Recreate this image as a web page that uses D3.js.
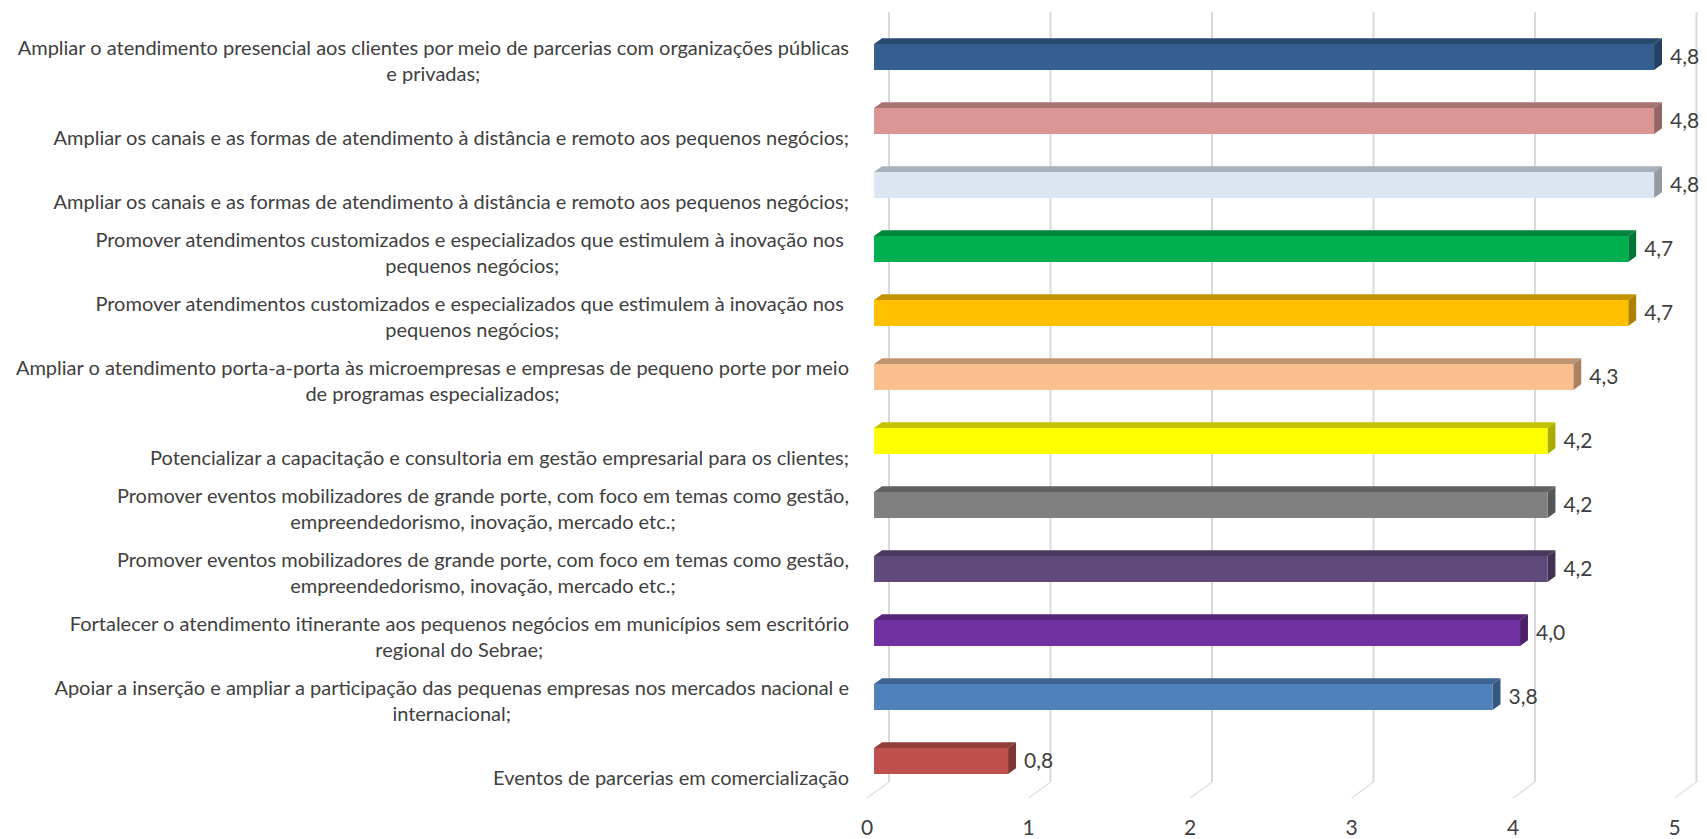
<!DOCTYPE html>
<html>
<head>
<meta charset="utf-8">
<script src="https://cdn.jsdelivr.net/npm/d3@7"></script>
<style>
body { margin: 0; background: #fff; }
text { font-family: Lato, "Open Sans", sans-serif; fill: #404040; }
.cat { font-size: 20px; white-space: pre; }
.num { font-size: 21px; }
</style>
</head>
<body>
<svg id="chart" width="1707" height="839"></svg>
<script>
'use strict';

var categories = [
	'Ampliar o atendimento presencial aos clientes por meio de parcerias com organizações públicas\ne privadas;',
	'Ampliar os canais e as formas de atendimento à distância e remoto aos pequenos negócios;',
	'Ampliar os canais e as formas de atendimento à distância e remoto aos pequenos negócios;',
	'Promover atendimentos customizados e especializados que estimulem à inovação nos \npequenos negócios;',
	'Promover atendimentos customizados e especializados que estimulem à inovação nos \npequenos negócios;',
	'Ampliar o atendimento porta-a-porta às microempresas e empresas de pequeno porte por meio\nde programas especializados;',
	'Potencializar a capacitação e consultoria em gestão empresarial para os clientes;',
	'Promover eventos mobilizadores de grande porte, com foco em temas como gestão,\nempreendedorismo, inovação, mercado etc.;',
	'Promover eventos mobilizadores de grande porte, com foco em temas como gestão,\nempreendedorismo, inovação, mercado etc.;',
	'Fortalecer o atendimento itinerante aos pequenos negócios em municípios sem escritório\nregional do Sebrae;',
	'Apoiar a inserção e ampliar a participação das pequenas empresas nos mercados nacional e\ninternacional;',
	'Eventos de parcerias em comercialização'
];

var values = [4.83, 4.83, 4.83, 4.67, 4.67, 4.33, 4.17, 4.17, 4.17, 4.0, 3.83, 0.83];

var colors = ['#365f91', '#d99694', '#dce6f2', '#00b050', '#ffc000', '#fac090',
	'#ffff00', '#808080', '#604a7b', '#7030a0', '#4f81bd', '#c0504d'];

var ticks = [0, 1, 2, 3, 4, 5];

// 3d look: the floor goes back by (depth.x, depth.y)
var depth = {x: 22, y: -16};
var barFront = 0.32, barBack = 0.68, barH = 26;

var svg = d3.select('#chart');

var x = d3.scaleLinear().domain([0, 5]).range([867, 1674.5]);
var y = d3.scalePoint().domain(d3.range(categories.length)).range([57, 761]);

var fmt = d3.formatLocale({decimal: ',', thousands: '.', grouping: [3], currency: ['R$', '']}).format('.1f');

// back wall gridlines + floor
var grid = svg.append('g');
grid.selectAll('line.wall').data(ticks).join('line')
	.attr('x1', function (d) { return x(d) + depth.x; })
	.attr('x2', function (d) { return x(d) + depth.x; })
	.attr('y1', 12).attr('y2', 782)
	.style('stroke', '#d9d9d9').style('stroke-width', 2);
grid.selectAll('line.floor').data(ticks).join('line')
	.attr('x1', function (d) { return x(d) + depth.x; })
	.attr('y1', 782)
	.attr('x2', function (d) { return x(d); })
	.attr('y2', 782 - depth.y)
	.style('stroke', '#e0e0e0').style('stroke-width', 1.5);

svg.append('g').selectAll('text').data(ticks).join('text')
	.attr('class', 'num')
	.attr('x', function (d) { return x(d); })
	.attr('y', 828).attr('dy', '0.35em')
	.attr('text-anchor', 'middle')
	.text(function (d) { return d; });

// bars
var dx = (barBack - barFront) * depth.x, dy = (barBack - barFront) * depth.y;
var bars = svg.append('g').selectAll('g').data(values).join('g');

bars.each(function (v, i) {
	var g = d3.select(this);
	var x0 = x(0) + barFront * depth.x, x1 = x(v) + barFront * depth.x;
	var top = y(i) - barH / 2, bot = y(i) + barH / 2;
	var c = colors[i];

	g.append('polygon')
		.attr('points', [[x0, top], [x0 + dx, top + dy], [x1 + dx, top + dy], [x1, top]].join(' '))
		.style('fill', d3.color(c).darker(0.75));
	g.append('polygon')
		.attr('points', [[x1, top], [x1 + dx, top + dy], [x1 + dx, bot + dy], [x1, bot]].join(' '))
		.style('fill', d3.color(c).darker(1.1));
	g.append('rect')
		.attr('x', x0).attr('y', top)
		.attr('width', x1 - x0).attr('height', barH)
		.style('fill', c);
	g.append('text')
		.attr('class', 'num')
		.attr('x', x1 + dx + 8)
		.attr('y', y(i)).attr('dy', '0.35em')
		.text(fmt(v));
});

// category labels, lines centred in a right aligned box, bottom line under the bar
var labels = svg.append('g').selectAll('g').data(categories).join('g');
labels.each(function (d, i) {
	var g = d3.select(this);
	var lines = d.split('\n');
	var t = g.selectAll('text').data(lines).join('text')
		.attr('class', 'cat')
		.attr('text-anchor', 'middle')
		.attr('y', function (l, k) { return y(i) + 17 + (k - lines.length + 1) * 26; })
		.attr('dy', '0.35em')
		.text(function (l) { return l; });
	var w = d3.max(t.nodes(), function (n) { return n.getComputedTextLength(); });
	t.attr('x', 849 - w / 2);
});
</script>
</body>
</html>
